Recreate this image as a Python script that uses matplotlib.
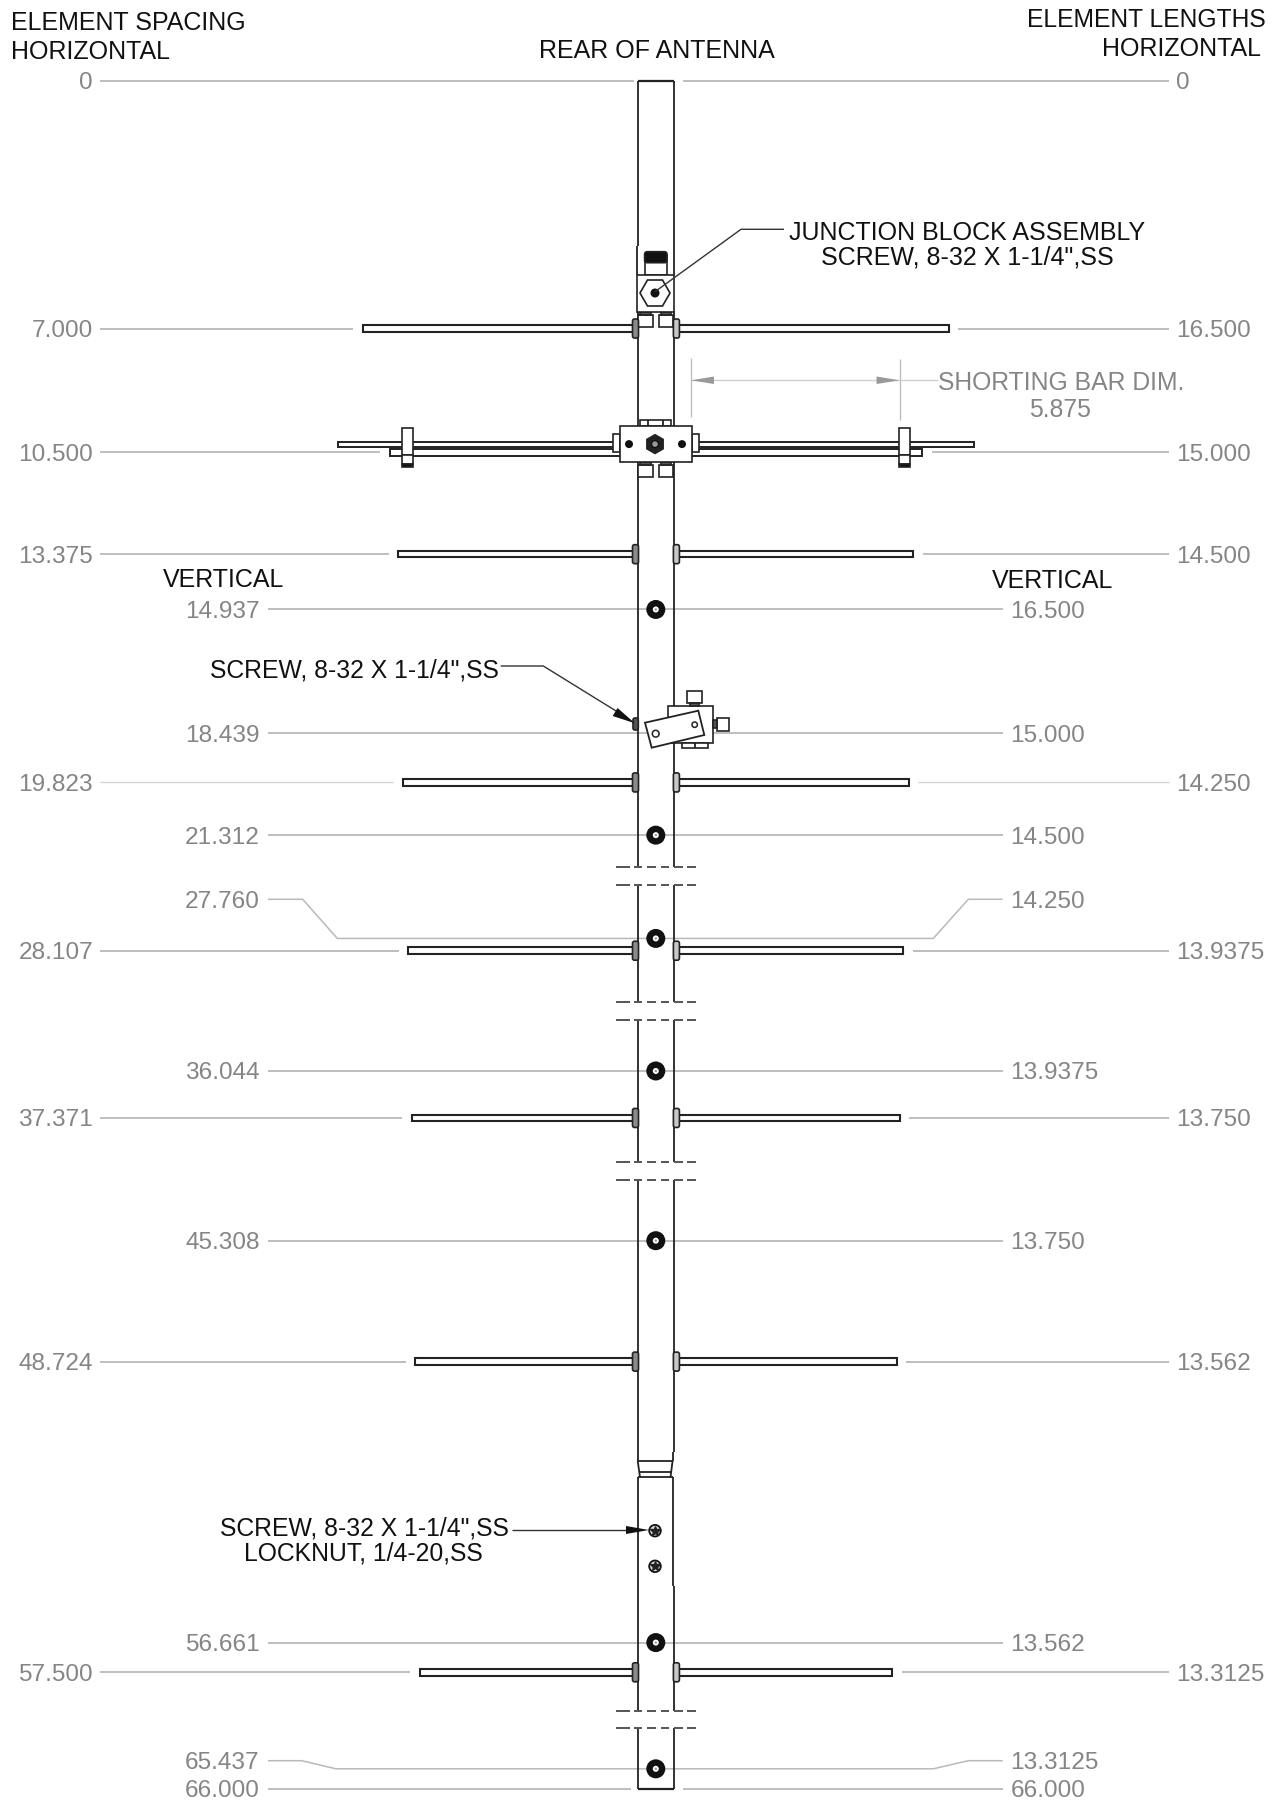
import numpy as np
import matplotlib
matplotlib.use('Agg')
import matplotlib.pyplot as plt
from matplotlib.patches import Rectangle, Polygon, Circle, RegularPolygon, FancyBboxPatch

plt.rcParams['font.family'] = ['Liberation Sans', 'DejaVu Sans']

# horizontal elements (station along boom, element length, inches)
h_spacing = [0, 7.0, 10.5, 13.375, 19.823, 28.107, 37.371, 48.724, 57.5]
h_spacing_labels = ['0', '7.000', '10.500', '13.375', '19.823', '28.107', '37.371', '48.724', '57.500']
h_lengths = [0, 16.5, 15.0, 14.5, 14.25, 13.9375, 13.75, 13.562, 13.3125]
h_length_labels = ['0', '16.500', '15.000', '14.500', '14.250', '13.9375', '13.750', '13.562', '13.3125']

# vertical elements, seen end on as holes through the boom
v_spacing = [14.937, 18.439, 21.312, 27.760, 36.044, 45.308, 56.661, 65.437, 66.0]
v_spacing_labels = ['14.937', '18.439', '21.312', '27.760', '36.044', '45.308', '56.661', '65.437', '66.000']
v_length_labels = ['16.500', '15.000', '14.500', '14.250', '13.9375', '13.750', '13.562', '13.3125', '66.000']

shorting_bar = 5.875
driven_rod = 17.95

# the drawing leaves boom out at the breaks: first station of each piece, inches removed before it
piece_start = [0, 24.0, 31.0, 40.0, 60.0]
piece_cut = [0, 3.53, 8.07, 12.54, 17.75]
break_pairs = [(22.22, 26.25), (29.56, 34.6), (38.61, 43.59), (58.59, 64.28)]

PX = 35.5
CX = 655.8
TOP = 80.7
LINE = '#b9b9b9'
GREY = '#858585'
DARK = '#222222'


def sy(station):
    i = np.searchsorted(piece_start, station, side='right') - 1
    return TOP + 35.4 * (station - piece_cut[i])


fig = plt.figure(figsize=(12.77, 18), dpi=100)
ax = fig.add_axes([0, 0, 1, 1])
ax.set_xlim(0, 1277)
ax.set_ylim(1800, 0)
ax.axis('off')


def line(xs, ys, color=DARK, lw=1.3, z=3):
    ax.plot(xs, ys, color=color, lw=lw, zorder=z, solid_capstyle='butt')


def box(x0, y0, x1, y1, fc='white', ec=DARK, lw=1.2, z=4):
    ax.add_patch(Rectangle((x0, y0), x1 - x0, y1 - y0, fc=fc, ec=ec, lw=lw, zorder=z))


def round_box(x0, y0, x1, y1, fc='white', ec=DARK, lw=1.2, z=5, r=2.0):
    ax.add_patch(FancyBboxPatch((x0 + r, y0 + r), x1 - x0 - 2 * r, y1 - y0 - 2 * r,
                                boxstyle=f'round,pad={r}', fc=fc, ec=ec, lw=lw, zorder=z))


def grey_text(x, y, s, ha, size=17.6):
    ax.text(x, y, s, color=GREY, fontsize=size, ha=ha, va='center_baseline', zorder=6)


def black_text(x, y, s, ha='left', size=18):
    ax.text(x, y, s, color='#111111', fontsize=size, ha=ha, va='center_baseline', zorder=6)


# boom outline
line([638, 638], [TOP, 245.7])
line([673.5, 673.5], [TOP, 245.7])
line([638, 673.5], [TOP, TOP], lw=1.6)
for x in (638.3, 673.6):
    line([x, x], [311, sy(break_pairs[0][0])])
    line([x, x], [sy(break_pairs[0][1]), sy(break_pairs[1][0])])
    line([x, x], [sy(break_pairs[1][1]), sy(break_pairs[2][0])])
    line([x, x], [sy(break_pairs[2][1]), 1451.7])
    line([x, x], [1585.7, sy(break_pairs[3][0])])
    line([x, x], [sy(break_pairs[3][1]), sy(66)])
line([638.3, 673.6], [sy(66), sy(66)], lw=1.6)

# break marks
for a, b in break_pairs:
    for st in (a, b):
        y = sy(st)
        for d0, d1 in [(616, 630), (634, 642), (647, 656), (661, 669), (674, 683), (687, 696)]:
            line([d0, d1], [y, y], color='#555555', lw=1.4)

# taper and sleeve near the back of the boom
line([637.7, 637.7], [1451.7, 1460.7])
line([672.6, 672.6], [1451.7, 1460.7])
line([637.7, 672.6], [1460.7, 1460.7])
line([637.7, 640], [1460.7, 1477.3])
line([672.6, 670.5], [1460.7, 1477.3])
line([640, 670.5], [1472.3, 1472.3])
line([637.7, 672.7], [1477.3, 1477.3])
line([637.7, 637.7], [1477.3, 1585.7])
line([672.7, 672.7], [1477.3, 1585.7])

# horizontal dimension lines
for s, lab, length, lab2 in zip(h_spacing, h_spacing_labels, h_lengths, h_length_labels):
    y = sy(s)
    half = length * PX / 2
    if s == 0:
        line([100, 633.5], [y, y], LINE, 1.3, 1)
        line([683, 1168.6], [y, y], LINE, 1.3, 1)
    else:
        col, lw = (LINE, 1.3) if s != 19.823 else ('#d4d4d4', 1.0)
        line([100, CX - half - 9.5], [y, y], col, lw, 1)
        line([CX + half + 9.5, 1169], [y, y], col, lw, 1)
    grey_text(93, y, lab, 'right')
    grey_text(1176, y, lab2, 'left')

# horizontal elements
for s, length in zip(h_spacing[1:], h_lengths[1:]):
    y = sy(s)
    half = length * PX / 2
    if s == 10.5:
        box(CX - half, y - 3.5, CX + half, y + 3.5, lw=1.4, z=3)
        continue
    box(CX - half, y - 3.3, 633, y + 3.3, lw=1.5)
    box(679, y - 3.3, CX + half, y + 3.3, lw=1.5)
    round_box(632.5, y - 9.5, 638.5, y + 9.5, fc='#8a8a8a')
    round_box(673.4, y - 9.5, 679.4, y + 9.5, fc='#c8c8c8')

# vertical rows, holes through the boom
for s, lab, lab2 in zip(v_spacing, v_spacing_labels, v_length_labels):
    y = sy(s)
    if s == 27.760:
        ly = ry = 899.3
        line([268, 302.7, 337.3, 933.3, 968.3, 1002.7], [ly, ly, y, y, ry, ry], LINE, 1.1, 1)
    elif s == 65.437:
        ly = ry = 1760.7
        line([268, 301.7, 336, 933.3, 968.3, 1002.7], [ly, ly, y, y, ry, ry], LINE, 1.1, 1)
    elif s == 66.0:
        ly = ry = y
        line([268, 631], [y, y], LINE, 1.3, 1)
        line([682.7, 1002.7], [y, y], LINE, 1.3, 1)
    else:
        ly = ry = y
        line([268, 1002.7], [y, y], LINE, 1.3, 1)
    grey_text(259.5, ly, lab, 'right')
    grey_text(1010.5, ry, lab2, 'left')
    if s != 18.439 and s != 66.0:
        ax.add_patch(Circle((CX, y), 9.5, fc='#111111', ec='none', zorder=5))
        ax.add_patch(Circle((CX, y), 3, fc='white', ec='none', zorder=5.1))
        ax.add_patch(Circle((CX, y), 1.2, fc='#999999', ec='none', zorder=5.2))

# junction block at the front of the boom
y_block = 293
line([637, 637], [245.7, 275])
line([674, 674], [245.7, 275])
box(644.6, 255, 667, 275, z=3)
round_box(644.6, 251.7, 667, 262.7, fc='#111111', z=3.1, r=2.5)
box(637, 275, 674, 311.7)
ax.add_patch(RegularPolygon((655, y_block), 6, radius=15, orientation=np.pi / 6, fc='white', ec=DARK, lw=1.2, zorder=4.1))
ax.add_patch(Circle((655, y_block), 4.5, fc='#111111', zorder=5))
for x0, x1 in [(638, 652.7), (658.5, 673)]:
    box(x0, 315, x1, 327.3, z=3)
    box(x0 + 2, 311.7, x1 - 2, 315, fc='#555555', z=3)

# driven element, block and shorting bars
y = sy(10.5)
y_up = y - 8.3
half_rod = driven_rod * PX / 2 * 0.999
box(CX - half_rod, y_up - 2.6, CX + half_rod, y_up + 2.6, lw=1.4, z=3.2)
box(620, 425.7, 691.5, 462, z=4.5)
box(612.5, 434.3, 620, 452.3, z=4.4)
box(691.5, 434.3, 699, 452.3, z=4.4)
box(640, 420.3, 671.4, 425.7, z=4.4)
line([648, 648], [420.3, 425.7], z=4.4)
line([663, 663], [420.3, 425.7], z=4.4)
for x0, x1 in [(638, 652.7), (658.5, 673)]:
    box(x0, 465, x1, 477.3, z=3)
    box(x0 + 2, 462, x1 - 2, 465, fc='#555555', z=3)
for x in (629, 682):
    ax.add_patch(Circle((x, y_up), 4, fc='#111111', zorder=5))
ax.add_patch(RegularPolygon((655, y_up), 6, radius=9.5, fc='#222222', ec=DARK, zorder=5))
ax.add_patch(Circle((655, y_up), 3.5, fc='#999999', ec='#111111', lw=1, zorder=5.1))
for x0, x1 in [(402, 413), (899, 909.5)]:
    box(x0, 428.3, x1, 455, z=4)
    box(x0, 455, x1, 464, z=4)
    box(x0, 464, x1, 467.3, fc='#111111', z=4)

# shorting bar dimension
x0 = 691
x1 = x0 + shorting_bar * PX
line([x0, x0], [358.3, 416.7], '#bdbdbd', 1.0, 1)
line([x1, x1], [359, 420], '#bdbdbd', 1.0, 1)
line([x0, x1], [380.3, 380.3], '#cfcfcf', 1.0, 1)
line([x1, 938], [380.3, 380.3], '#cfcfcf', 1.0, 1)
ax.add_patch(Polygon([(x0, 380.3), (x0 + 23, 376.5), (x0 + 23, 384)], fc='#999999', ec='none', zorder=2))
ax.add_patch(Polygon([(x1, 380.3), (x1 - 23, 376.5), (x1 - 23, 384)], fc='#999999', ec='none', zorder=2))
grey_text(938, 380.7, 'SHORTING BAR DIM.', 'left', 17.8)
grey_text(1060, 407.7, '5.875', 'center', 17.8)

# feed bracket
box(667.7, 706, 712.7, 742.7, z=3)
box(687.3, 691, 702, 703.3, z=3)
box(690, 703.3, 699, 706, fc='#555555', z=3)
box(716.7, 717.7, 728.7, 731, z=3)
box(712.7, 720, 716.7, 728, fc='#555555', z=3)
box(681.7, 742.7, 708.3, 747.7, z=3)
line([695, 695], [742.7, 747.7])
ax.add_patch(Polygon([(645, 722.7), (698.3, 710.7), (704.3, 735), (651.7, 747.7)], fc='white', ec=DARK, lw=1.3, zorder=4))
ax.add_patch(Circle((655.7, 733.7), 3.4, fc='white', ec=DARK, lw=1.1, zorder=5))
ax.add_patch(Circle((694.7, 724.7), 2.7, fc='white', ec=DARK, lw=1.1, zorder=5))
round_box(633, 718, 638.3, 730, fc='#555555')

# back of boom screws
for y in (1530.7, 1566.3):
    ax.add_patch(Circle((655, y), 5.8, fc='#dddddd', ec='#111111', lw=1.3, zorder=5))
    ax.plot([655], [y], marker='*', ms=7, color='#222222', zorder=5.1)

# callouts
line([784, 741, 655], [229.3, 229.3, 291.7], '#333333', 1.0, 6)
black_text(789, 230.7, 'JUNCTION BLOCK ASSEMBLY')
black_text(821.4, 255, 'SCREW, 8-32 X 1-1/4",SS')

line([500.7, 543.3, 625], [666, 666, 716.5], '#333333', 1.0, 6)
ax.add_patch(Polygon([(635, 723.3), (612.7, 716), (617.5, 708)], fc='#111111', ec='none', zorder=6))
black_text(499, 667.7, 'SCREW, 8-32 X 1-1/4",SS', 'right', 17.8)

line([511.7, 640], [1530, 1530], '#333333', 1.0, 6)
ax.add_patch(Polygon([(649, 1530), (626, 1526), (626, 1534)], fc='#111111', ec='none', zorder=6))
black_text(509, 1526, 'SCREW, 8-32 X 1-1/4",SS', 'right', 17.8)
black_text(363.5, 1550.7, 'LOCKNUT, 1/4-20,SS', 'center', 17.8)

black_text(10.6, 21, 'ELEMENT SPACING')
black_text(10.6, 49.3, 'HORIZONTAL')
black_text(656.8, 49, 'REAR OF ANTENNA', 'center')
black_text(1266, 17.3, 'ELEMENT LENGTHS', 'right', 17.7)
black_text(1261, 46.3, 'HORIZONTAL', 'right')
black_text(223.5, 577.3, 'VERTICAL', 'center')
black_text(1053, 578, 'VERTICAL', 'center')

fig.savefig('out.png', dpi=100)
